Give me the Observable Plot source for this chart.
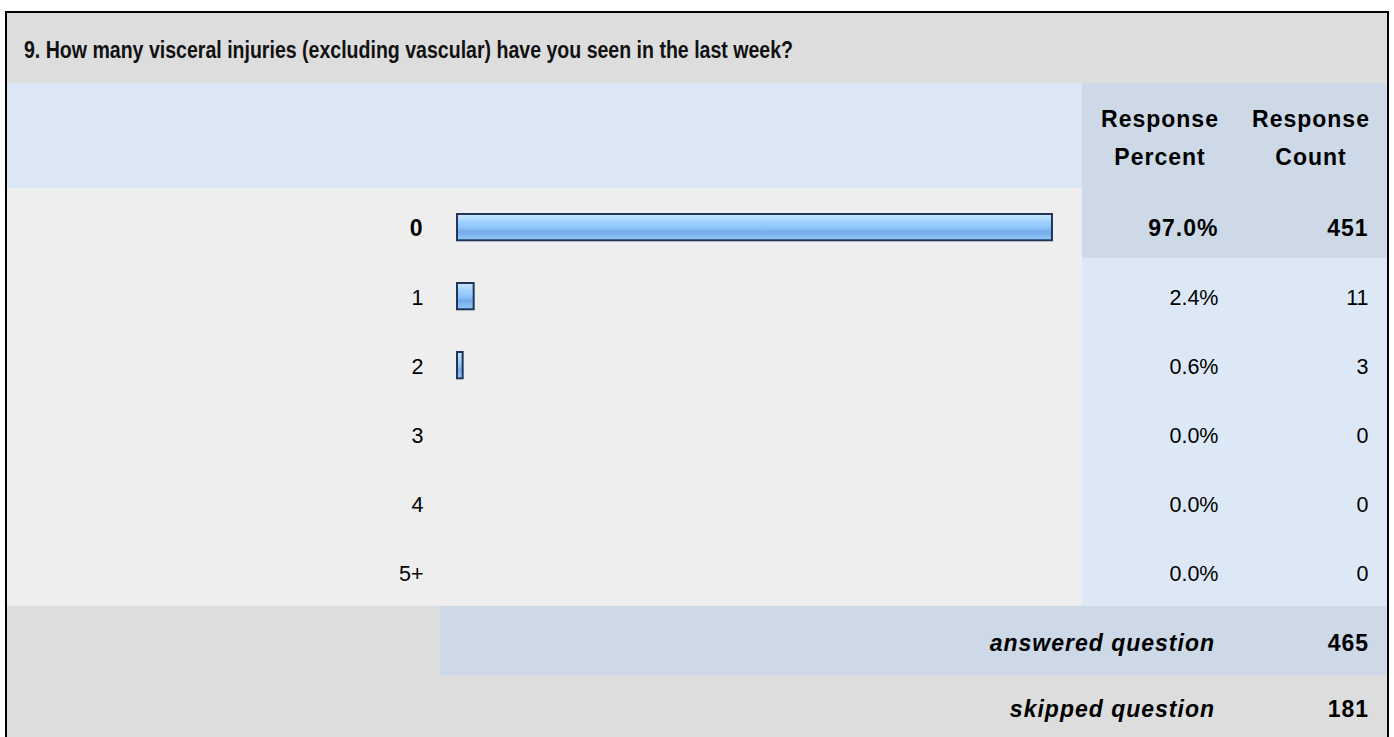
<!DOCTYPE html>
<html>
<head>
<meta charset="utf-8">
<script src="https://cdn.jsdelivr.net/npm/d3@7"></script>
<script src="https://cdn.jsdelivr.net/npm/@observablehq/plot@0.6"></script>
<style>
  html, body { margin: 0; padding: 0; background: #ffffff; overflow: hidden; }
  body { width: 1394px; height: 737px; position: relative; font-family: "Liberation Sans", Arial, Helvetica, sans-serif; color: #000; }
  .abs { position: absolute; }
  .txt { position: absolute; white-space: nowrap; line-height: 1; }
</style>
</head>
<body>
<script>
// ---- data ----
const question = "9. How many visceral injuries (excluding vascular) have you seen in the last week?";
const categories = ["0", "1", "2", "3", "4", "5+"];
const percents = [97.0, 2.4, 0.6, 0.0, 0.0, 0.0];
const counts = [451, 11, 3, 0, 0, 0];
const headerPercent = ["Response", "Percent"];
const headerCount = ["Response", "Count"];
const answeredLabel = "answered question";
const skippedLabel = "skipped question";
const answeredCount = 465;
const skippedCount = 181;

// ---- layout (page px) ----
const L = 7, R = 1387;
const rowsTop = 188, rowsBottom = 606;
const colSplit = 1082;
const rowH = (rowsBottom - rowsTop) / categories.length;
const maxPct = d3.max(percents);
const BOLD = 23, REG = 21.5, LS = "1px";

function box(x, y, w, h, bg) {
  const d = document.createElement("div");
  d.className = "abs";
  Object.assign(d.style, {left: x + "px", top: y + "px", width: w + "px", height: h + "px", background: bg});
  document.body.appendChild(d);
  return d;
}
function text(str, x, baseline, anchor, size, weight, style, ls) {
  const s = document.createElement("div");
  s.className = "txt";
  s.textContent = str;
  Object.assign(s.style, {
    fontSize: size + "px", fontWeight: weight || "normal", fontStyle: style || "normal",
    letterSpacing: ls || "normal",
    top: (baseline - 0.846 * size) + "px", left: x + "px",
    transform: anchor === "end" ? "translateX(-100%)" : anchor === "middle" ? "translateX(-50%)" : "none"
  });
  document.body.appendChild(s);
  return s;
}

// outer border
const frame = box(5, 11, R - L, 800, "transparent");
frame.style.border = "2px solid #000";
frame.style.borderBottom = "none";
frame.style.zIndex = 5;

// title band
box(L, 13, R - L, 70, "#dddddd");
const t = text(question, 24, 59, "start", 23.5, "bold");
t.style.color = "#111";
t.style.transformOrigin = "0 0";
const tw = t.getBoundingClientRect().width;
t.style.transform = `scaleX(${769 / tw})`;

// header band
box(L, 83, colSplit - L, rowsTop - 83, "#dce7f5");
box(colSplit, 83, R - colSplit, rowsTop - 83, "#cdd9e6");
text(headerPercent[0], 1160, 127.7, "middle", BOLD, "bold", null, LS);
text(headerPercent[1], 1160, 165.7, "middle", BOLD, "bold", null, LS);
text(headerCount[0], 1311, 127.7, "middle", BOLD, "bold", null, LS);
text(headerCount[1], 1311, 165.7, "middle", BOLD, "bold", null, LS);

// rows background
box(L, rowsTop, colSplit - L, rowsBottom - rowsTop, "#eeeeee");
percents.forEach((p, i) => {
  box(colSplit, rowsTop + i * rowH, R - colSplit, rowH + 0.5, p === maxPct ? "#cdd9e6" : "#dde8f6");
});

// footer
box(L, rowsBottom, R - L, 69, "#dddddd");
box(440, rowsBottom, R - 440, 69, "#cdd9e6");
box(L, rowsBottom + 69, R - L, 100, "#dddddd");
text(answeredLabel, 1215, 651, "end", BOLD, "bold", "italic", LS);
text(String(answeredCount), 1369, 651, "end", BOLD, "bold", null, LS);
text(skippedLabel, 1215, 717, "end", BOLD, "bold", "italic", LS);
text(String(skippedCount), 1369, 717, "end", BOLD, "bold", null, LS);

// ---- chart ----
const rows = categories.map((c, i) => ({cat: c, pct: percents[i], count: counts[i], top: percents[i] === maxPct}));
const W = R - L;
const mLeft = 451, mRight = 317.7;
const font = "Liberation Sans, Arial, Helvetica, sans-serif";
const topRows = rows.filter(d => d.top), otherRows = rows.filter(d => !d.top);
const boldText = {fontSize: BOLD, fontWeight: "bold", fill: "#000", dy: 4};
const regText = {fontSize: REG, fill: "#000", dy: 4};

const chart = Plot.plot({
  width: W,
  height: rowsBottom - rowsTop,
  marginLeft: mLeft,
  marginRight: mRight,
  marginTop: 0,
  marginBottom: 0,
  x: {domain: [0, 100], axis: null},
  y: {domain: categories, axis: null, padding: 0},
  style: {background: "transparent", fontFamily: font, color: "#000", overflow: "visible"},
  marks: [
    Plot.barX(rows.filter(d => d.pct > 0), {
      x: "pct", y: "cat",
      fill: "url(#barGrad)", stroke: "#1e3759", strokeWidth: 2,
      insetLeft: -1, insetRight: -1, insetTop: 24, insetBottom: 18.7
    }),
    Plot.text(topRows, {y: "cat", text: "cat", frameAnchor: "left", textAnchor: "end", dx: -35, ...boldText}),
    Plot.text(otherRows, {y: "cat", text: "cat", frameAnchor: "left", textAnchor: "end", dx: -35, ...regText}),
    Plot.text(topRows, {y: "cat", text: d => d.pct.toFixed(1) + "%", frameAnchor: "right", textAnchor: "end", dx: 148.7, ...boldText}),
    Plot.text(otherRows, {y: "cat", text: d => d.pct.toFixed(1) + "%", frameAnchor: "right", textAnchor: "end", dx: 148.7, ...regText}),
    Plot.text(topRows, {y: "cat", text: d => String(d.count), frameAnchor: "right", textAnchor: "end", dx: 298.7, ...boldText}),
    Plot.text(otherRows, {y: "cat", text: d => String(d.count), frameAnchor: "right", textAnchor: "end", dx: 298.7, ...regText})
  ]
});

// bold texts get the same slight letter spacing as the reference
d3.select(chart).selectAll("text").filter(function() {
  const w = this.getAttribute("font-weight") || (this.parentNode && this.parentNode.getAttribute("font-weight"));
  return w === "bold";
}).style("letter-spacing", LS);

const defs = d3.select(chart).insert("defs", ":first-child");
const g = defs.append("linearGradient").attr("id", "barGrad").attr("x1", 0).attr("y1", 0).attr("x2", 0).attr("y2", 1);
[[0, "#cfe7ff"], [0.14, "#b8ddff"], [0.28, "#a3d2ff"], [0.45, "#94c9fd"], [0.58, "#84bcf4"], [0.68, "#74aaea"], [0.8, "#80b8f2"], [1, "#93c8fb"]]
  .forEach(([o, c]) => g.append("stop").attr("offset", o).attr("stop-color", c));

chart.style.position = "absolute";
chart.style.left = L + "px";
chart.style.top = rowsTop + "px";
chart.style.zIndex = 2;
document.body.appendChild(chart);
</script>
</body>
</html>
